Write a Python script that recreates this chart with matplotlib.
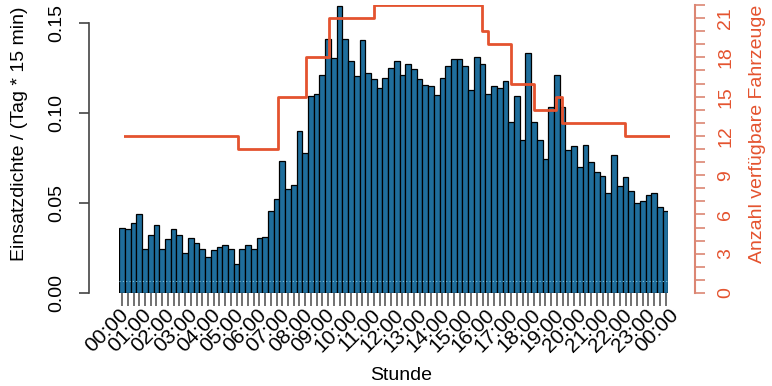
import numpy as np
import matplotlib
matplotlib.use('Agg')
import matplotlib.pyplot as plt

plt.rcParams['font.family'] = ['Liberation Sans', 'DejaVu Sans']

# Einsatzdichte je 15-Minuten-Intervall (96 Werte, 00:00 - 23:45)
density = [
    0.0363, 0.0357, 0.0391, 0.0441, 0.0244, 0.0320, 0.0376, 0.0244,
    0.0300, 0.0356, 0.0320, 0.0222, 0.0307, 0.0280, 0.0244, 0.0202,
    0.0237, 0.0256, 0.0267, 0.0244, 0.0163, 0.0244, 0.0267, 0.0244,
    0.0307, 0.0313, 0.0454, 0.0520, 0.0733, 0.0576, 0.0600, 0.0900,
    0.0780, 0.1093, 0.1104, 0.1211, 0.1413, 0.1304, 0.1594, 0.1413,
    0.1291, 0.1204, 0.1407, 0.1222, 0.1189, 0.1141, 0.1196, 0.1252,
    0.1289, 0.1211, 0.1272, 0.1244, 0.1187, 0.1156, 0.1148, 0.1100,
    0.1196, 0.1263, 0.1300, 0.1300, 0.1263, 0.1128, 0.1311, 0.1272,
    0.1104, 0.1150, 0.1141, 0.1178, 0.0952, 0.1094, 0.0848, 0.1335,
    0.0952, 0.0848, 0.0746, 0.1035, 0.1209, 0.1035, 0.0794, 0.0817,
    0.0700, 0.0824, 0.0726, 0.0670, 0.0650, 0.0557, 0.0767, 0.0594,
    0.0644, 0.0569, 0.0500, 0.0513, 0.0543, 0.0557, 0.0476, 0.0457,
]
ref_level = 0.0067

# verfügbare Fahrzeuge (Stufenfunktion)
fleet_hours = [0, 5, 6.75, 8, 9, 11, 15.75, 16, 17, 18, 19, 19.25, 22, 24]
fleet_count = [12, 11, 15, 18, 21, 22, 20, 19, 16, 14, 15, 13, 12, 12]

hour_labels = ['%02d:00' % (h % 24) for h in range(25)]

blue = '#1f6e9c'
red = '#e4532f'
red_axis = '#dc8673'
fs = 14

fig = plt.figure(figsize=(7.72, 3.86), dpi=100)
W, H = 772, 386

# Balken
ax = fig.add_axes([119.3 / W, 93 / H, 549.1 / W, 288 / H])
x = np.arange(len(density)) / 4
ax.bar(x, density, width=0.25, align='edge', color=blue,
       edgecolor='black', linewidth=0.9)
ax.hlines(ref_level, 0, 24, colors='#7fc0dc', linestyles=(0, (1, 2)), linewidth=0.8)
ax.set_xlim(0, 24)
ax.set_ylim(0, 0.16)

for s in ['top', 'right', 'bottom']:
    ax.spines[s].set_visible(False)
ax.spines['left'].set_position(('outward', 22))
ax.spines['left'].set_bounds(0, 0.15)
ax.spines['left'].set_color('#444444')
ax.spines['left'].set_linewidth(1.2)

ax.set_yticks([0, 0.05, 0.10, 0.15])
ax.set_yticklabels(['0.00', '0.05', '0.10', '0.15'], rotation=90, va='center')
ax.tick_params(axis='y', length=7, width=1.2, color='#444444', pad=10, labelsize=fs)

ax.set_xticks(x + 0.125, minor=True)
ax.set_xticks(np.arange(25))
ax.set_xticklabels(hour_labels, rotation=45, ha='right', rotation_mode='anchor')
ax.tick_params(axis='x', which='major', length=0, pad=9, labelsize=15)
ax.tick_params(axis='x', which='minor', length=9, width=1.3, color='#666666')

fig.text(401 / W, 1 - 375 / H, 'Stunde', ha='center', va='center', fontsize=fs)
fig.text(20 / W, 1 - 134 / H, 'Einsatzdichte / (Tag * 15 min)', rotation=90,
         ha='center', va='center', fontsize=fs)

# Fahrzeuge
ax2 = fig.add_axes([124.3 / W, 93 / H, 545.7 / W, 288 / H])
ax2.patch.set_visible(False)
ax2.step(fleet_hours, fleet_count, where='post', color=red, linewidth=2)
ax2.set_xlim(0, 24)
ax2.set_ylim(0, 22)
ax2.set_xticks([])
for s in ['top', 'left', 'bottom']:
    ax2.spines[s].set_visible(False)
ax2.yaxis.tick_right()
ax2.spines['right'].set_position(('outward', 18))
ax2.spines['right'].set_bounds(0, 22)
ax2.spines['right'].set_color(red_axis)
ax2.spines['right'].set_linewidth(1.5)
ax2.set_yticks(range(0, 22, 3))
ax2.set_yticklabels([str(v) for v in range(0, 22, 3)], rotation=90, va='center')
ax2.set_yticks(range(23), minor=True)
ax2.tick_params(axis='y', which='both', length=7, width=1.2, color=red_axis,
                labelcolor=red, pad=9, labelsize=fs)
fig.text(758 / W, 1 - 134 / H, 'Anzahl verfügbare Fahrzeuge', rotation=90,
         ha='center', va='center', fontsize=fs, color=red)

fig.savefig('out.png', dpi=100)
